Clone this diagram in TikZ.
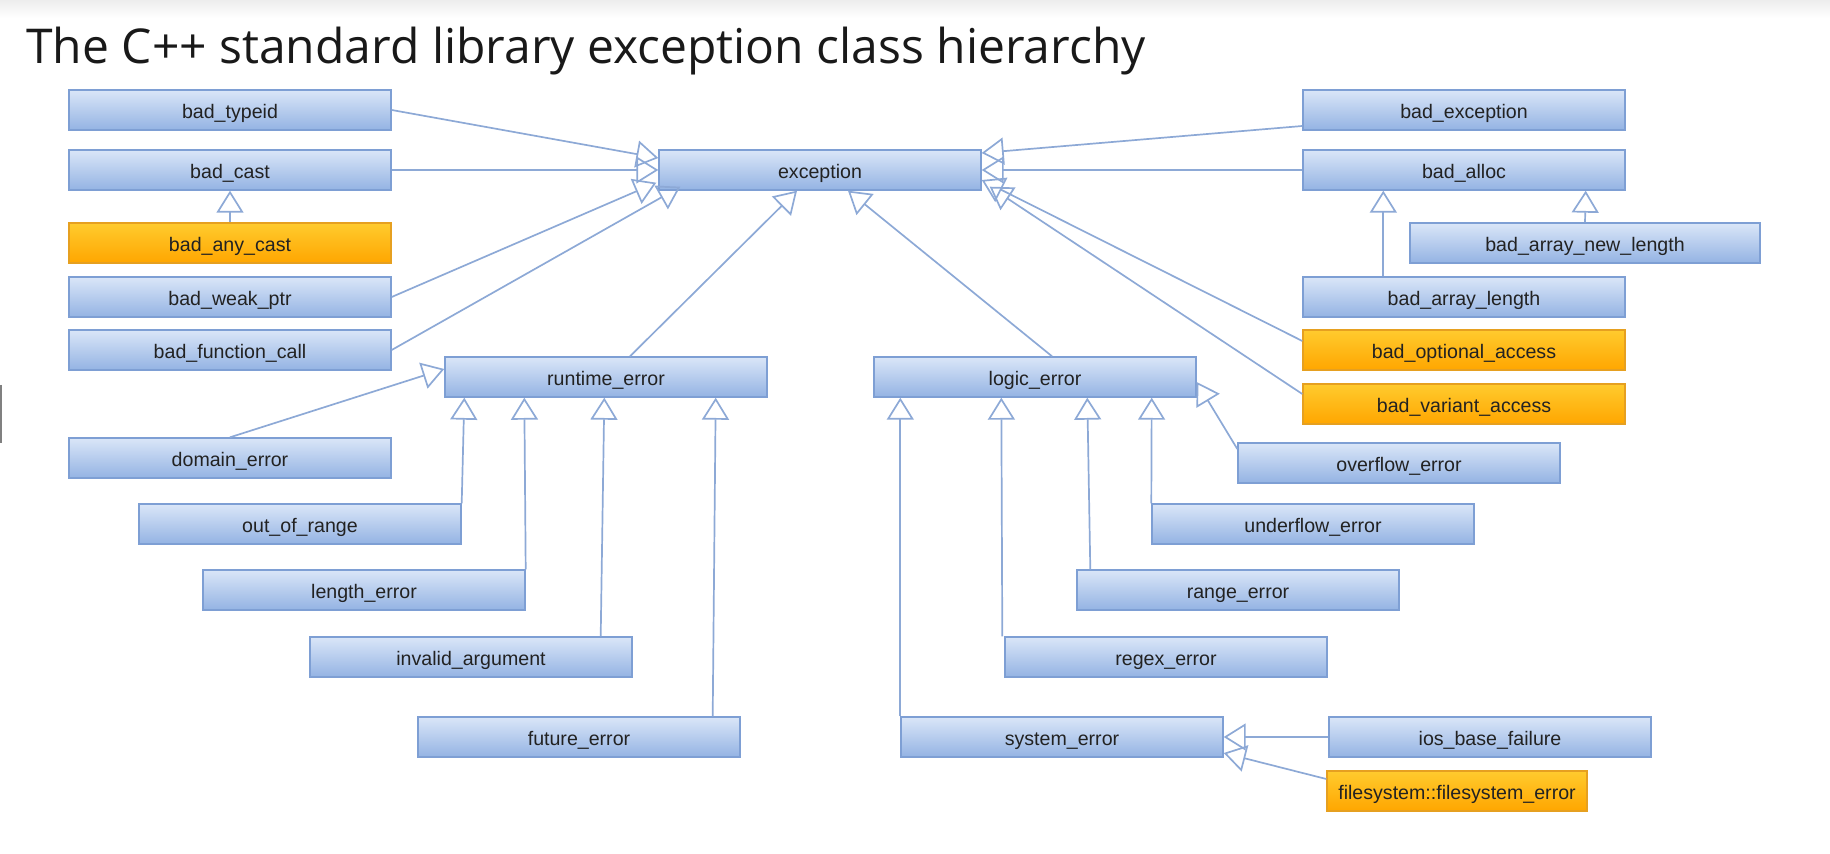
\documentclass[tikz,border=0pt]{standalone}
\usepackage{fontspec}
\setmainfont{Liberation Sans}
\newfontfamily\titlefont{Open Sans}
\usetikzlibrary{arrows.meta}

\definecolor{boxtop}{HTML}{DAE6F8}
\definecolor{boxbot}{HTML}{94B3E3}
\definecolor{boxline}{HTML}{7E9FD4}
\definecolor{hottop}{HTML}{FFCB2E}
\definecolor{hotbot}{HTML}{FFA600}
\definecolor{hotline}{HTML}{E6A020}
\definecolor{wire}{HTML}{8DA9D6}
\definecolor{labelgray}{HTML}{222222}

\begin{document}
\begin{tikzpicture}[x=0.5pt,y=-0.5pt,
  cls/.style={draw=boxline, line width=0.7pt, top color=boxtop, bottom color=boxbot,
    minimum width=161pt, minimum height=20pt, inner sep=0pt,
    text height=8.5pt, text depth=0pt,
    font=\fontsize{9.8}{11}\selectfont, text=labelgray},
  hot/.style={cls, draw=hotline, top color=hottop, bottom color=hotbot},
  inh/.style={draw=wire, line width=0.85pt, -{Triangle[open, length=11pt, width=13.5pt]}}]

  \useasboundingbox (0,0) rectangle (1830,854);
  \shade[top color=gray!14, bottom color=white] (0,0) rectangle (1830,18);
  \draw[gray, line width=1pt] (1,385) -- (1,443);

  % title
  \node[anchor=base west, inner sep=0pt, text=black!90,
    font=\titlefont\fontsize{24}{29}\selectfont] (title) at (26,64)
    {The C++ standard library exception class hierarchy};

  % left column
  \node[cls] (typeid) at (230,110) {bad\_typeid};
  \node[cls] (cast) at (230,170) {bad\_cast};
  \node[hot] (anycast) at (230,243) {bad\_any\_cast};
  \node[cls] (weakptr) at (230,297) {bad\_weak\_ptr};
  \node[cls] (funccall) at (230,350) {bad\_function\_call};

  % root
  \node[cls] (exc) at (820,170) {exception};

  % right column
  \node[cls] (badexc) at (1464,110) {bad\_exception};
  \node[cls] (badalloc) at (1464,170) {bad\_alloc};
  \node[cls, minimum width=175pt] (arraynew) at (1585,243) {bad\_array\_new\_length};
  \node[cls] (arraylen) at (1464,297) {bad\_array\_length};
  \node[hot] (optional) at (1464,350) {bad\_optional\_access};
  \node[hot] (variant) at (1464,404) {bad\_variant\_access};

  % runtime_error and its children
  \node[cls] (rt) at (606,377) {runtime\_error};
  \node[cls] (domain) at (230,458) {domain\_error};
  \node[cls] (oor) at (300,524) {out\_of\_range};
  \node[cls] (len) at (364,590) {length\_error};
  \node[cls] (inv) at (471,657) {invalid\_argument};
  \node[cls] (fut) at (579,737) {future\_error};

  % logic_error and its children
  \node[cls] (lg) at (1035,377) {logic\_error};
  \node[cls] (ovf) at (1399,463) {overflow\_error};
  \node[cls] (und) at (1313,524) {underflow\_error};
  \node[cls] (rng) at (1238,590) {range\_error};
  \node[cls] (reg) at (1166,657) {regex\_error};
  \node[cls] (sys) at (1062,737) {system\_error};
  \node[cls] (ios) at (1490,737) {ios\_base\_failure};
  \node[hot, minimum width=130pt] (fs) at (1457,791) {filesystem::filesystem\_error};

  % into exception
  \draw[inh] (typeid.east) -- ([yshift=6pt]exc.west);
  \draw[inh] (cast.east) -- (exc.west);
  \draw[inh] (weakptr.east) -- ([xshift=-1pt,yshift=4pt]exc.south west);
  \draw[inh] (funccall.east) -- ([xshift=11pt,yshift=2pt]exc.south west);
  \draw[inh] ([yshift=-8pt]badexc.west) -- ([yshift=8.5pt]exc.east);
  \draw[inh] (badalloc.west) -- (exc.east);
  \draw[inh] ([yshift=4.5pt]optional.west) -- ([yshift=-5pt]exc.east);
  \draw[inh] ([yshift=5pt]variant.west) -- ([xshift=4pt,yshift=2pt]exc.south east);
  \draw[inh] ([xshift=12pt]rt.north) -- ([xshift=-11.5pt]exc.south);
  \draw[inh] ([xshift=8.5pt]lg.north) -- ([xshift=14pt]exc.south);

  % small hierarchies
  \draw[inh] (anycast.north) -- (cast.south);
  \draw[inh] ([xshift=40.5pt]arraylen.north west) -- ([xshift=40.5pt]badalloc.south west);
  \draw[inh] (arraynew.north) -- ([xshift=-20pt]badalloc.south east);

  % into runtime_error
  \draw[inh] (domain.north) -- ([yshift=4pt]rt.west);
  \draw[inh] (oor.north east) -- ([xshift=10pt]rt.south west);
  \draw[inh] (len.north east) -- ([xshift=40pt]rt.south west);
  \draw[inh] ([xshift=-16pt]inv.north east) -- ([xshift=80pt]rt.south west);
  \draw[inh] ([xshift=-14pt]fut.north east) -- ([xshift=-26pt]rt.south east);

  % into logic_error
  \draw[inh] ([yshift=7pt]ovf.west) -- ([yshift=-2.5pt]lg.east);
  \draw[inh] (und.north west) -- ([xshift=-22.5pt]lg.south east);
  \draw[inh] ([xshift=7pt]rng.north west) -- ([xshift=107pt]lg.south west);
  \draw[inh] ([xshift=-1pt]reg.north west) -- ([xshift=64pt]lg.south west);
  \draw[inh] (sys.north west) -- ([xshift=13.5pt]lg.south west);

  % into system_error
  \draw[inh] (ios.west) -- (sys.east);
  \draw[inh] ([yshift=6pt]fs.west) -- ([yshift=-8pt]sys.east);

\end{tikzpicture}
\end{document}
